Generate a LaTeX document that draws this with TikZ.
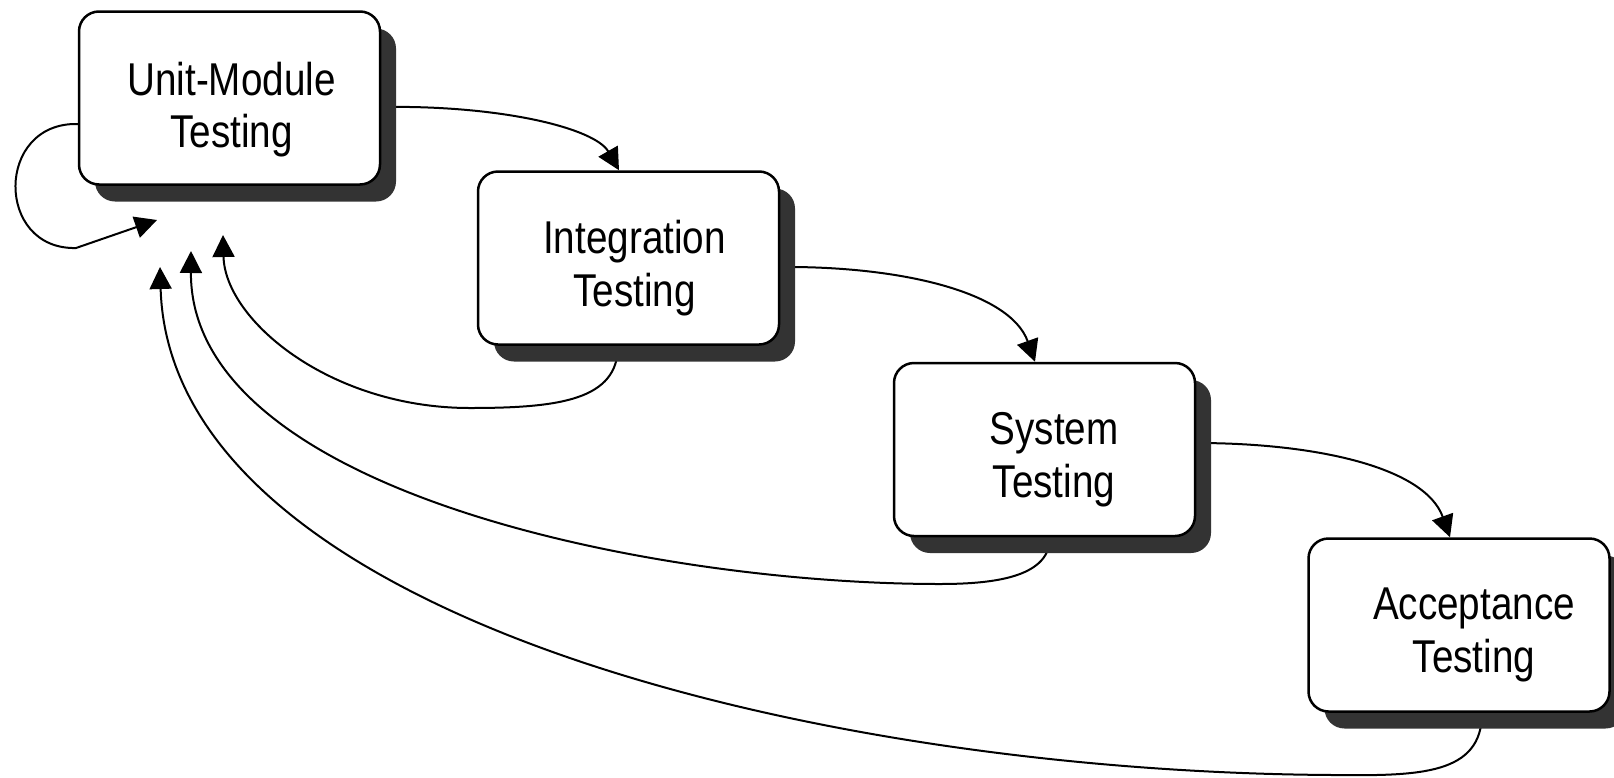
\documentclass[tikz,border=0pt]{standalone}
\usepackage{fontspec}
\setmainfont{Liberation Sans}[FakeStretch=0.84]
\usetikzlibrary{arrows.meta,shadows}
\definecolor{shadowgray}{RGB}{51,51,51}
\pgfdeclarelayer{paper}
\pgfdeclarelayer{wires}
\pgfsetlayers{paper,wires,main}

\begin{document}
\begin{tikzpicture}[x=1pt,y=-1pt,
  stage/.style={draw=black, line width=2.5pt, fill=white, rounded corners=20pt,
    minimum width=301pt, minimum height=173pt, inner sep=0pt,
    drop shadow={shadow xshift=16pt, shadow yshift=-17pt, fill=shadowgray, opacity=1}},
  caption/.style={font=\fontsize{46pt}{52.5pt}\selectfont, align=center, inner sep=0pt},
  flow/.style={line width=2pt, line join=round, -{Triangle[length=22pt,width=22pt]}}
]
\begin{pgfonlayer}{paper}
  \fill[white] (0,0) rectangle (1614,777);
\end{pgfonlayer}
\useasboundingbox (0,0) rectangle (1614,777);

% testing stages
\node[stage] (u) at (229.5,98) {};
\node[stage] (i) at (628.5,258) {};
\node[stage] (s) at (1044.5,449.5) {};
\node[stage] (a) at (1459,625) {};

\node[caption] (ulab) at ([shift={(2,11.6)}]u.center) {Unit-Module\\Testing};
\node[caption] (ilab) at ([shift={(6,10)}]i.center) {Integration\\Testing};
\node[caption] (slab) at ([shift={(9.5,10)}]s.center) {System\\Testing};
\node[caption] (alab) at ([shift={(15,10)}]a.center) {Acceptance\\Testing};

% return points below the first stage
\coordinate (tipD) at (157,220);
\coordinate (tipA) at (223,235);
\coordinate (tipB) at (191,251);
\coordinate (tipC) at (160,267);

\begin{pgfonlayer}{wires}
  % forward flow
  \draw[flow] ([yshift=-9pt]u.east) .. controls +(120,-2) and +(-24,-42) .. ([xshift=-9.5pt]i.north);
  \draw[flow] ([yshift=-9pt]i.east) .. controls +(120,-1) and +(-25,-70) .. ([xshift=-9.5pt]s.north);
  \draw[flow] ([yshift=6.5pt]s.east) .. controls +(120,0) and +(-25,-70) .. ([xshift=-9pt]a.north);

  % feedback loops
  \draw[flow] ([yshift=-26pt]u.west) .. controls (-5,122) and (-5,250) .. (76,248) -- (tipD);
  \draw[flow] ([xshift=-10.5pt]i.south) .. controls +(0,54) and (560,408) .. (470,408)
              .. controls (330,408) and (225,320) .. (tipA);
  \draw[flow] ([xshift=5.5pt]s.south) .. controls +(0,38) and (1000,584) .. (940,584)
              .. controls (650,584) and (190,490) .. (tipB);
  \draw[flow] ([xshift=23pt]a.south) .. controls +(0,62) and (1420,776) .. (1333,775)
              .. controls (800,772) and (170,610) .. (tipC);
\end{pgfonlayer}
\end{tikzpicture}
\end{document}
